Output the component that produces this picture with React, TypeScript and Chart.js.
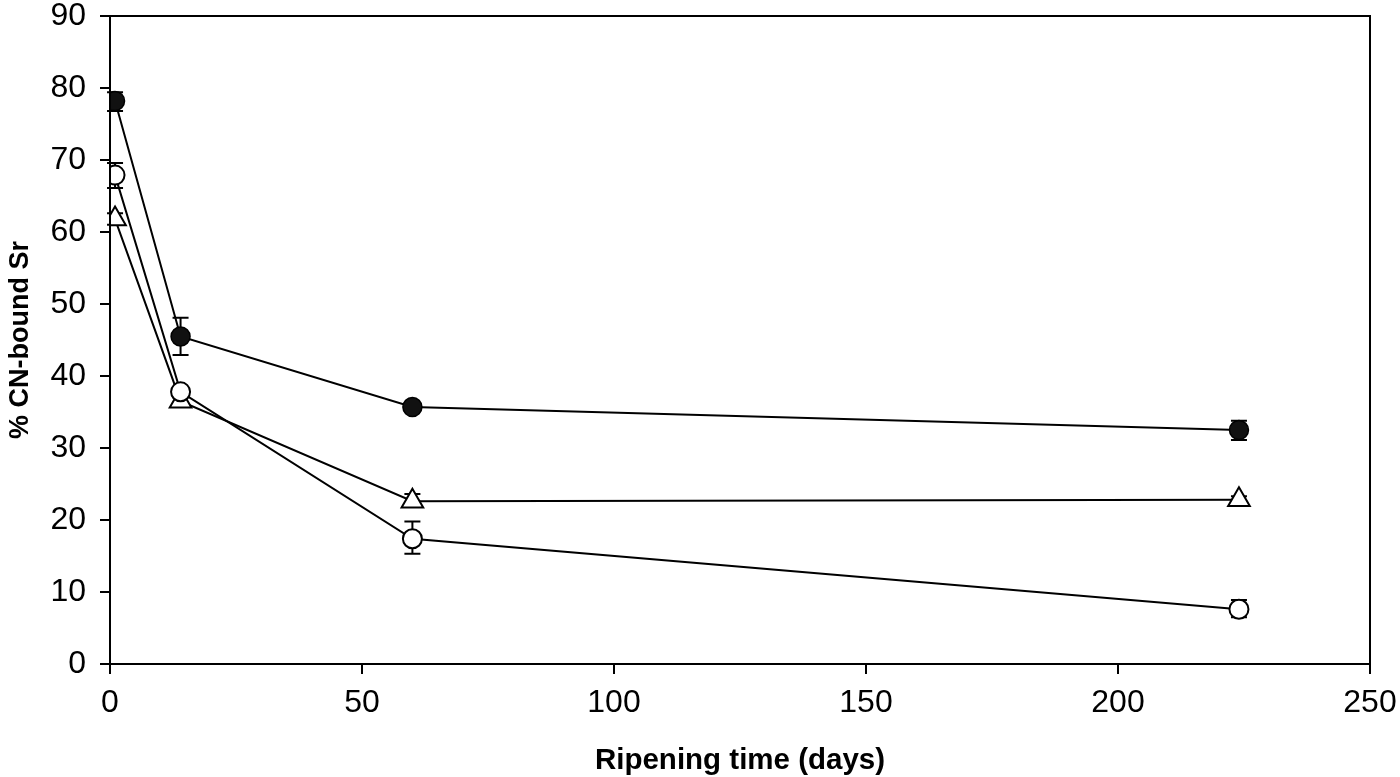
import React, { useEffect, useRef } from "react";
import { Chart, registerables } from "chart.js";

Chart.register(...registerables);

const days = [1, 14, 60, 224];
const filledVals = [78.2, 45.5, 35.7, 32.5];
const filledLow = [76.8, 42.9, 35.2, 31.1];
const filledHigh = [79.4, 48.1, 36.2, 33.8];
const openVals = [67.9, 37.8, 17.4, 7.6];
const openLow = [66.1, 37.2, 15.3, 6.5];
const openHigh = [69.6, 38.4, 19.8, 8.9];
const triVals = [61.8, 36.5, 22.6, 22.8];
const triLow = [61.0, 36.0, 22.0, 22.3];
const triHigh = [62.6, 37.0, 23.6, 23.3];
const xTicks = [0, 50, 100, 150, 200, 250];
const yTicks = [0, 10, 20, 30, 40, 50, 60, 70, 80, 90];

const FONT = "'Liberation Sans', Arial, Helvetica, sans-serif";

export default function App() {
  const ref = useRef<HTMLCanvasElement | null>(null);

  useEffect(() => {
    document.body.style.margin = "0";
    if (!ref.current) return;

    const errorBars = {
      id: "errorBars",
      beforeDatasetsDraw(chart: any) {
        const ctx = chart.ctx;
        const ys = chart.scales.y;
        chart.data.datasets.forEach((ds: any, di: number) => {
          const meta = chart.getDatasetMeta(di);
          ctx.save();
          ctx.strokeStyle = "#000";
          ctx.lineWidth = 2;
          meta.data.forEach((pt: any, i: number) => {
            const x = pt.x;
            const yl = ys.getPixelForValue(ds.errLow[i]);
            const yh = ys.getPixelForValue(ds.errHigh[i]);
            ctx.beginPath();
            ctx.moveTo(x, yl);
            ctx.lineTo(x, yh);
            ctx.moveTo(x - 8, yl);
            ctx.lineTo(x + 8, yl);
            ctx.moveTo(x - 8, yh);
            ctx.lineTo(x + 8, yh);
            ctx.stroke();
          });
          ctx.restore();
        });
      },
    };

    const frame = {
      id: "frame",
      afterDraw(chart: any) {
        const { ctx, chartArea } = chart;
        ctx.save();
        ctx.strokeStyle = "#000";
        ctx.lineWidth = 2;
        ctx.strokeRect(chartArea.left, chartArea.top, chartArea.right - chartArea.left, chartArea.bottom - chartArea.top);
        ctx.restore();
      },
    };

    const mk = (vals: number[]) => vals.map((v, i) => ({ x: days[i], y: v }));

    const chart = new Chart(ref.current, {
      type: "line",
      data: {
        datasets: [
          {
            label: "filled",
            data: mk(filledVals),
            errLow: filledLow,
            errHigh: filledHigh,
            borderColor: "#000",
            borderWidth: 2,
            pointStyle: "circle",
            pointRadius: 9.5,
            pointBackgroundColor: "#111",
            pointBorderColor: "#000",
            pointBorderWidth: 1.5,
            tension: 0,
          } as any,
          {
            label: "open",
            data: mk(openVals),
            errLow: openLow,
            errHigh: openHigh,
            borderColor: "#000",
            borderWidth: 2,
            pointStyle: "circle",
            pointRadius: 9.5,
            pointBackgroundColor: "#fff",
            pointBorderColor: "#000",
            pointBorderWidth: 2,
            tension: 0,
          } as any,
          {
            label: "triangle",
            data: mk(triVals),
            errLow: triLow,
            errHigh: triHigh,
            borderColor: "#000",
            borderWidth: 2,
            pointStyle: "triangle",
            pointRadius: 12.5,
            pointBackgroundColor: "#fff",
            pointBorderColor: "#000",
            pointBorderWidth: 2,
            tension: 0,
          } as any,
        ],
      },
      options: {
        animation: false,
        responsive: false,
        maintainAspectRatio: false,
        layout: { padding: { top: 16, right: 30, left: 0, bottom: 0 } },
        plugins: { legend: { display: false }, tooltip: { enabled: false } },
        scales: {
          x: {
            type: "linear",
            min: 0,
            max: 250,
            afterFit(scale: any) {
              scale.height = 113;
              scale.paddingLeft = 0;
              scale.paddingRight = 0;
            },
            afterBuildTicks(scale: any) {
              scale.ticks = xTicks.map((v) => ({ value: v }));
            },
            ticks: { color: "#000", font: { family: FONT, size: 32 }, padding: 10, maxRotation: 0 },
            grid: { drawOnChartArea: false, drawTicks: true, tickLength: 10, color: "#000", lineWidth: 2 },
            border: { display: true, color: "#000", width: 2 },
            title: {
              display: true,
              text: "Ripening time (days)",
              color: "#000",
              font: { family: FONT, size: 29.5, weight: "bold", lineHeight: 1.0 },
              padding: { top: 0, bottom: 1 },
            },
          },
          y: {
            type: "linear",
            min: 0,
            max: 90,
            afterFit(scale: any) {
              scale.width = 110;
              scale.paddingTop = 0;
              scale.paddingBottom = 0;
            },
            afterBuildTicks(scale: any) {
              scale.ticks = yTicks.map((v) => ({ value: v }));
            },
            ticks: { color: "#000", font: { family: FONT, size: 32 }, padding: 14 },
            grid: { drawOnChartArea: false, drawTicks: true, tickLength: 10, color: "#000", lineWidth: 2 },
            border: { display: true, color: "#000", width: 2 },
            title: {
              display: true,
              text: "% CN-bound Sr",
              color: "#000",
              font: { family: FONT, size: 27, weight: "bold" },
              padding: { top: 4, bottom: 0 },
            },
          },
        },
      } as any,
      plugins: [errorBars, frame],
    });

    return () => chart.destroy();
  }, []);

  return (
    <div style={{ width: 1400, height: 777, background: "#fff" }}>
      <canvas ref={ref} width={1400} height={777} style={{ width: 1400, height: 777, display: "block" }} />
    </div>
  );
}
